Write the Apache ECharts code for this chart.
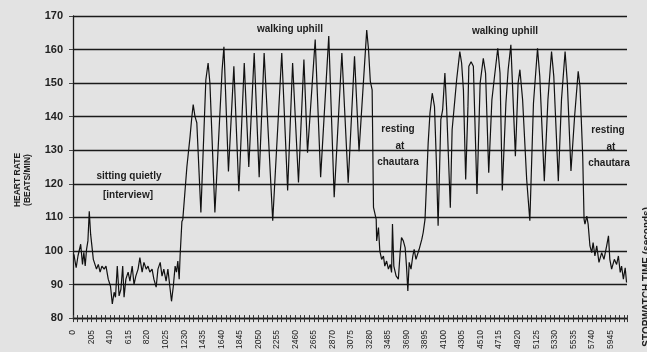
<!DOCTYPE html>
<html>
<head>
<meta charset="utf-8">
<script src="https://cdn.jsdelivr.net/npm/echarts@6/dist/echarts.min.js"></script>
<style>
html,body{margin:0;padding:0;background:#e3e3e3;}
#c{width:647px;height:352px;}
</style>
</head>
<body>
<div id="c"></div>
<script>
// Stopwatch time (seconds)
const times = [
  10,35,55,85,105,120,135,150,165,180,195,210,225,245,260,280,300,320,345,365,
  390,415,435,455,470,490,510,530,550,565,585,610,630,655,675,695,720,740,765,785,
  810,830,850,875,895,920,940,965,985,1005,1030,1050,1075,1090,1110,1130,1145,1160,1175,1185,
  1205,1215,1260,1295,1315,1330,1350,1370,1415,1470,1495,1515,1570,1650,1670,1720,1780,1835,1895,1945,
  2005,2060,2115,2210,2310,2375,2430,2495,2555,2595,2680,2740,2830,2890,2975,3045,3115,3165,3250,3270,
  3290,3310,3325,3355,3360,3380,3395,3415,3435,3450,3470,3490,3510,3525,3535,3550,3575,3600,3620,3635,
  3655,3675,3690,3705,3720,3740,3760,3775,3795,3830,3860,3875,3895,3915,3930,3950,3975,4000,4020,4040,
  4070,4090,4115,4135,4175,4195,4225,4245,4280,4300,4320,4345,4370,4380,4405,4430,4470,4505,4540,4565,
  4600,4635,4660,4700,4725,4750,4790,4815,4845,4895,4925,4945,4975,5020,5055,5095,5140,5165,5215,5255,
  5295,5320,5370,5405,5445,5470,5510,5550,5590,5610,5640,5655,5665,5685,5700,5720,5740,5755,5775,5795,
  5820,5850,5875,5905,5925,5940,5960,5990,6015,6035,6055,6070,6090,6110,6125
];
// Heart rate (beats/min)
const heartRate = [
  99,95,98.5,102,96,99.6,95.5,100.5,103,111.8,105,105,97.5,98,94.6,96,93.7,95.5,94.6,95.5,
  91.6,89.5,84.2,87.7,86.2,95.5,86.6,88.6,95.5,86.2,91.6,93.7,91,95.5,90,92.5,94.6,98,93.7,96.6,
  94.6,95.5,93.7,94.6,91.6,89.2,94.6,96.6,92.5,94.6,91,94.6,88.6,85,89.5,95.5,93.7,97,91.6,98.5,
  108.8,109.4,125,134,140,143.6,140,138.2,111.5,151,156,150,111.5,154,160.8,123.7,155,117.8,156,125,
  159,122,159,109,159,118,156,120.4,157,129.3,163,122,164,116,159,120.3,158,129.7,165.8,160,
  150.5,148,113,109.4,103,107,100,97.5,98.5,95.5,97,94.6,96,93.6,108,95.5,92.6,91.6,99.6,104,
  103,101,95.5,88.1,96.6,94.6,98.5,100.5,97.5,100.5,103.5,105.5,109.4,122.3,132.2,141.1,147,143,127.2,107.5,
  139.1,142,153,142,112.9,136.1,145,151,159.4,156,148,121.3,143,155,156.4,155,117,150,157.4,153,
  123.3,145,151,160.4,153,118,144,154,161.4,128.2,150,154,145,121.3,109,144,160.4,152,120.8,145,
  159.4,152,120.8,145,159.4,150,123.8,140,153.5,149,128.2,109.4,108,110.4,108,101.5,99.5,102.5,98.5,101.5,
  96.6,99.5,97.5,101.5,104.5,97.5,94.6,97.5,96,98.5,93.6,95.5,91.6,95,90.6
];
const xStep = 205;
const xMax = 6130;
const yTicks = [80, 90, 100, 110, 120, 130, 140, 150, 160, 170];
const yStep = 10;

const annotations = [
  { text: 'sitting quietly', x: 129, y: 176 },
  { text: '[interview]', x: 128, y: 195 },
  { text: 'walking uphill', x: 290, y: 29 },
  { text: 'walking uphill', x: 505, y: 31 },
  { text: 'resting', x: 398, y: 129 },
  { text: 'at', x: 400, y: 146 },
  { text: 'chautara', x: 398, y: 162 },
  { text: 'resting', x: 608, y: 130 },
  { text: 'at', x: 611, y: 147 },
  { text: 'chautara', x: 609, y: 163 }
];

const FONT = '"Liberation Sans", Arial, sans-serif';
const chart = echarts.init(document.getElementById('c'), null, { renderer: 'canvas' });

const seriesData = times.map((t, i) => [t, heartRate[i]]);

const graphics = annotations.map(a => ({
  type: 'text', x: a.x, y: a.y,
  style: { text: a.text, fill: '#1e1e1e', font: 'bold 10px ' + FONT, textAlign: 'center', textVerticalAlign: 'middle' }
}));
graphics.push({
  type: 'text', x: 23, y: 180, rotation: Math.PI / 2,
  style: { text: 'HEART RATE\n(BEATS/MIN)', fill: '#1e1e1e', font: 'bold 8.5px ' + FONT, lineHeight: 10, textAlign: 'center', textVerticalAlign: 'middle' }
});
graphics.push({
  type: 'text', x: 647, y: 207, rotation: Math.PI / 2,
  style: { text: 'STOPWATCH TIME (seconds)', fill: '#1e1e1e', font: 'bold 10px ' + FONT, textAlign: 'right', textVerticalAlign: 'middle' }
});

const option = {
  backgroundColor: '#e3e3e3',
  animation: false,
  grid: { left: 73, right: 20, top: 16, bottom: 33, containLabel: false },
  xAxis: [
    {
      type: 'value', min: 0, max: xMax, interval: xStep,
      axisLine: { show: true, lineStyle: { color: '#1a1a1a', width: 1.3 } },
      axisTick: { show: true, length: 4, lineStyle: { color: '#333', width: 1 } },
      minorTick: { show: true, splitNumber: 4, length: 4, lineStyle: { color: '#333', width: 1 } },
      axisLabel: { rotate: 90, fontSize: 8.5, color: '#222', margin: 12, showMaxLabel: false, fontFamily: FONT,
        formatter: v => String(v) },
      splitLine: { show: false }
    },
    {
      type: 'value', min: 0, max: xMax, interval: xStep, position: 'bottom',
      axisLine: { show: false },
      axisTick: { show: true, inside: true, length: 3, lineStyle: { color: '#333', width: 1 } },
      minorTick: { show: true, splitNumber: 4, length: 3, lineStyle: { color: '#333', width: 1 } },
      axisLabel: { show: false },
      splitLine: { show: false }
    }
  ],
  yAxis: {
    type: 'value', min: yTicks[0], max: yTicks[yTicks.length - 1], interval: yStep,
    axisLine: { show: true, lineStyle: { color: '#1a1a1a', width: 1.3 } },
    axisTick: { show: true, length: 4, lineStyle: { color: '#444' } },
    axisLabel: { fontSize: 11, fontWeight: 'bold', color: '#222', margin: 10, fontFamily: FONT },
    splitLine: { show: true, lineStyle: { color: '#1a1a1a', width: 1.3 } }
  },
  series: [{
    type: 'line', xAxisIndex: 0, data: seriesData, showSymbol: false, symbol: 'none',
    lineStyle: { color: '#111', width: 1.2 }, z: 5
  }],
  graphic: graphics
};
chart.setOption(option);
</script>
</body>
</html>
